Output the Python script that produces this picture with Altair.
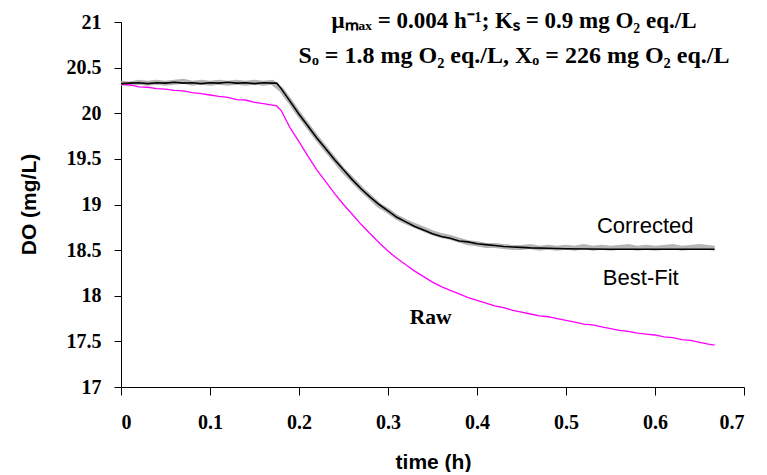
import altair as alt
import pandas as pd

# ---- data ----
corr_t = [0.00, 0.01, 0.02, 0.03, 0.04, 0.05, 0.06, 0.07, 0.08, 0.09,
          0.10, 0.11, 0.12, 0.13, 0.14, 0.15, 0.16, 0.17, 0.18, 0.19,
          0.20, 0.21, 0.22, 0.23, 0.24, 0.25, 0.26, 0.27, 0.28, 0.29,
          0.30, 0.31, 0.32, 0.33, 0.34, 0.35, 0.36, 0.37, 0.38, 0.39,
          0.40, 0.41, 0.42, 0.43, 0.44, 0.45, 0.46, 0.47, 0.48, 0.49,
          0.50, 0.51, 0.52, 0.53, 0.54, 0.55, 0.56, 0.57, 0.58, 0.59,
          0.60, 0.61, 0.62, 0.63, 0.64, 0.65, 0.66, 0.667]
corr_v = [20.33, 20.32, 20.34, 20.33, 20.34, 20.33, 20.34, 20.35, 20.33, 20.34,
          20.33, 20.34, 20.33, 20.34, 20.33, 20.34, 20.33, 20.34, 20.26, 20.13,
          19.99, 19.86, 19.73, 19.61, 19.49, 19.37, 19.27, 19.17, 19.08, 18.99,
          18.93, 18.86, 18.81, 18.77, 18.73, 18.69, 18.66, 18.64, 18.61, 18.58,
          18.57, 18.55, 18.55, 18.54, 18.53, 18.53, 18.54, 18.52, 18.53, 18.52,
          18.53, 18.52, 18.54, 18.52, 18.53, 18.52, 18.53, 18.54, 18.52, 18.53,
          18.52, 18.53, 18.54, 18.52, 18.53, 18.54, 18.53, 18.52]

fit_t = [0.00, 0.01, 0.02, 0.03, 0.04, 0.05, 0.06, 0.07, 0.08, 0.09,
         0.10, 0.11, 0.12, 0.13, 0.14, 0.15, 0.16, 0.17, 0.175, 0.18,
         0.19, 0.20, 0.21, 0.22, 0.23, 0.24, 0.25,
         0.26, 0.27, 0.28, 0.29, 0.30, 0.31, 0.32, 0.33, 0.34, 0.35,
         0.36, 0.37, 0.38, 0.39, 0.40, 0.41, 0.42, 0.43, 0.44, 0.45,
         0.46, 0.48, 0.50, 0.55, 0.60, 0.667]
fit_v = [20.325, 20.33, 20.335, 20.325, 20.335, 20.33, 20.34, 20.33, 20.335, 20.325,
         20.335, 20.33, 20.34, 20.33, 20.335, 20.325, 20.335, 20.33, 20.33, 20.27,
         20.13, 19.99, 19.86, 19.73, 19.61, 19.49, 19.38,
         19.27, 19.17, 19.08, 19.00, 18.93, 18.86, 18.81, 18.76, 18.72, 18.68,
         18.65, 18.63, 18.60, 18.59, 18.57, 18.56, 18.55, 18.54, 18.535, 18.53,
         18.525, 18.52, 18.515, 18.51, 18.51, 18.51]

raw_t = [0.00, 0.01, 0.02, 0.03, 0.04, 0.05, 0.06, 0.07, 0.08, 0.09,
         0.10, 0.11, 0.12, 0.13, 0.14, 0.15, 0.16, 0.17, 0.175, 0.18,
         0.19, 0.20, 0.21, 0.22, 0.23, 0.24, 0.25, 0.26, 0.27, 0.28,
         0.29, 0.30, 0.31, 0.32, 0.33, 0.34, 0.35, 0.36, 0.37, 0.38,
         0.39, 0.40, 0.41, 0.42, 0.43, 0.44, 0.45, 0.46, 0.47, 0.48,
         0.49, 0.50, 0.51, 0.52, 0.53, 0.54, 0.55, 0.56, 0.57, 0.58,
         0.59, 0.60, 0.61, 0.62, 0.63, 0.64, 0.65, 0.66, 0.667]
raw_v = [20.32, 20.31, 20.29, 20.285, 20.27, 20.265, 20.25, 20.245, 20.225, 20.215,
         20.20, 20.185, 20.175, 20.15, 20.145, 20.12, 20.105, 20.09, 20.08, 20.03,
         19.84, 19.69, 19.53, 19.38, 19.25, 19.12, 19.00, 18.89, 18.78, 18.68,
         18.58, 18.49, 18.41, 18.34, 18.27, 18.21, 18.15, 18.10, 18.06, 18.02,
         17.98, 17.95, 17.92, 17.89, 17.87, 17.84, 17.82, 17.80, 17.78, 17.77,
         17.75, 17.73, 17.71, 17.69, 17.68, 17.66, 17.64, 17.62, 17.61, 17.59,
         17.58, 17.57, 17.55, 17.54, 17.52, 17.51, 17.49, 17.47, 17.46]

x_ticks = [0, 0.1, 0.2, 0.3, 0.4, 0.5, 0.6, 0.7]
y_ticks = [17, 17.5, 18, 18.5, 19, 19.5, 20, 20.5, 21]

param_line1 = ["μₘₐₓ = 0.004 h⁻¹; Kₛ = 0.9 mg O₂ eq./L"]
param_line2 = ["Sₒ = 1.8 mg O₂ eq./L, Xₒ = 226 mg O₂ eq./L"]
param_t = [0.4416, 0.4416]
param_v = [20.934, 20.551]

series_text = ["Corrected", "Best-Fit"]
series_t = [0.589, 0.584]
series_v = [18.688, 18.118]

raw_label = ["Raw"]
raw_label_t = [0.348]
raw_label_v = [17.69]

# ---- build ----
corr = pd.DataFrame({"t": corr_t, "v": corr_v})
fit = pd.DataFrame({"t": fit_t, "v": fit_v})
raw = pd.DataFrame({"t": raw_t, "v": raw_v})
p1 = pd.DataFrame({"t": param_t[:1], "v": param_v[:1], "txt": param_line1})
p2 = pd.DataFrame({"t": param_t[1:], "v": param_v[1:], "txt": param_line2})
series = pd.DataFrame({"t": series_t, "v": series_v, "txt": series_text})
rawlab = pd.DataFrame({"t": raw_label_t, "v": raw_label_v, "txt": raw_label})

xs = alt.Scale(domain=[0, 0.7], nice=False, zero=False)
ys = alt.Scale(domain=[17, 21], nice=False, zero=False)

x_axis = alt.Axis(values=x_ticks, format=".1~f", title="time (h)", grid=False,
                  domainColor="black", tickColor="black", tickSize=8,
                  labelFont="Liberation Serif", labelFontWeight="bold", labelFontSize=20,
                  labelColor="black", labelPadding=17,
                  titleFont="Liberation Sans", titleFontWeight="bold", titleFontSize=21,
                  titleColor="black", titleX=312, titleY=81, titleBaseline="alphabetic")
y_axis = alt.Axis(values=y_ticks, format=".1~f", title="DO (mg/L)", grid=False,
                  domainColor="black", tickColor="black", tickSize=7,
                  labelFont="Liberation Serif", labelFontWeight="bold", labelFontSize=20,
                  labelColor="black", labelPadding=13,
                  titleFont="Liberation Sans", titleFontWeight="bold", titleFontSize=21,
                  titleColor="black", titleX=-92, titleY=182, titleBaseline="middle")

X = alt.X("t:Q", scale=xs, axis=x_axis)
Y = alt.Y("v:Q", scale=ys, axis=y_axis)

gray = alt.Chart(corr).mark_line(color="#b5b5b5", strokeWidth=5).encode(x=X, y=Y)
mag = alt.Chart(raw).mark_line(color="#ff00ff", strokeWidth=1.3).encode(x="t:Q", y="v:Q")
blk = alt.Chart(fit).mark_line(color="black", strokeWidth=1.6).encode(x="t:Q", y="v:Q")

t1 = alt.Chart(p1).mark_text(font="Liberation Serif", fontWeight="bold", fontSize=23,
                             color="black", align="center", baseline="alphabetic").encode(
    x="t:Q", y="v:Q", text="txt:N")
t2 = alt.Chart(p2).mark_text(font="Liberation Serif", fontWeight="bold", fontSize=24,
                             color="black", align="center", baseline="alphabetic").encode(
    x="t:Q", y="v:Q", text="txt:N")
stxt = alt.Chart(series).mark_text(font="Liberation Sans", fontSize=22, color="black",
                                   align="center", baseline="alphabetic").encode(
    x="t:Q", y="v:Q", text="txt:N")
rtxt = alt.Chart(rawlab).mark_text(font="Liberation Serif", fontWeight="bold", fontSize=21.5,
                                   color="black", align="center", baseline="alphabetic").encode(
    x="t:Q", y="v:Q", text="txt:N")

chart = alt.layer(gray, mag, blk, t1, t2, stxt, rtxt).properties(
    width=623, height=365,
    autosize=alt.AutoSizeParams(type="none"),
    padding={"left": 113, "top": 14, "right": 15, "bottom": 85},
    background="white",
).configure_view(stroke=None)

chart.save("out.html", embed_options={"renderer": "svg", "actions": False})
